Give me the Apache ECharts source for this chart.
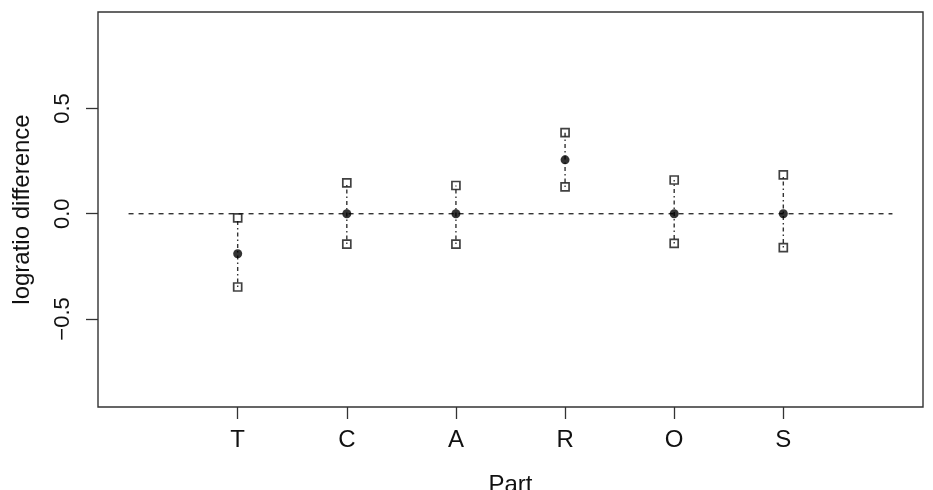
<!DOCTYPE html>
<html>
<head>
<meta charset="utf-8">
<script src="https://cdn.jsdelivr.net/npm/echarts@6/dist/echarts.min.js"></script>
<style>
  html, body { margin: 0; padding: 0; background: #fff; }
  #chart { width: 933px; height: 490px; }
</style>
</head>
<body>
<div id="chart"></div>
<script>
// ---- data ----
var parts = ['T', 'C', 'A', 'R', 'O', 'S'];
var partPos = [1, 2, 3, 4, 5, 6];
var meanVals = [-0.19, 0, 0, 0.256, 0, 0];
var upperVals = [-0.02, 0.146, 0.134, 0.385, 0.16, 0.184];
var lowerVals = [-0.348, -0.144, -0.144, 0.127, -0.141, -0.161];
var refLineX = [0, 7];
var refLineY = 0;
var yTicks = [-0.5, 0, 0.5];

var FONT = 'Liberation Sans, Arial, Helvetica, sans-serif';

function pts(vals) {
    return vals.map(function (v, i) { return [partPos[i], v]; });
}

var myChart = echarts.init(document.getElementById('chart'));
var option = {
    animation: false,
    backgroundColor: '#fff',
    grid: {
        left: 98, right: 10, top: 12, bottom: 83,
        outerBoundsMode: 'none',
        containLabel: false,
        show: true,
        borderColor: '#333',
        borderWidth: 1.4
    },
    xAxis: {
        type: 'value',
        min: -0.28, max: 7.28,
        name: 'Part',
        nameLocation: 'middle',
        nameGap: 66,
        nameTextStyle: { fontFamily: FONT, fontSize: 24, color: '#111' },
        axisLine: { show: false, onZero: false },
        splitLine: { show: false },
        axisTick: {
            show: true, length: 12, customValues: partPos,
            lineStyle: { color: '#333', width: 1.3 }
        },
        axisLabel: {
            customValues: partPos,
            margin: 21,
            fontFamily: FONT, fontSize: 24, color: '#111',
            formatter: function (v) { return parts[partPos.indexOf(v)] || ''; }
        }
    },
    yAxis: {
        type: 'value',
        min: -0.918, max: 0.958,
        name: 'logratio difference',
        nameLocation: 'middle',
        nameRotate: 90,
        nameGap: 64,
        nameTextStyle: { fontFamily: FONT, fontSize: 24, color: '#111' },
        axisLine: { show: false, onZero: false },
        splitLine: { show: false },
        axisTick: {
            show: true, length: 12, customValues: yTicks,
            lineStyle: { color: '#333', width: 1.3 }
        },
        axisLabel: {
            customValues: yTicks,
            rotate: 90,
            margin: 24,
            fontFamily: FONT, fontSize: 22, color: '#111',
            formatter: function (v) {
                return (v < 0 ? '\u2212' : '') + Math.abs(v).toFixed(1);
            }
        }
    },
    series: [
        {   // zero reference line
            type: 'line',
            data: refLineX.map(function (x) { return [x, refLineY]; }),
            symbol: 'none',
            silent: true,
            lineStyle: { color: '#333', width: 1.4, type: [5, 5] },
            z: 1
        },
        {   // dot-dash segments from lower to upper
            type: 'custom',
            data: partPos.map(function (x, i) { return [x, lowerVals[i], upperVals[i]]; }),
            renderItem: function (params, api) {
                var a = api.coord([api.value(0), api.value(1)]);
                var b = api.coord([api.value(0), api.value(2)]);
                return {
                    type: 'line',
                    shape: { x1: a[0], y1: a[1], x2: b[0], y2: b[1] },
                    style: { stroke: '#333', lineWidth: 1.4, lineDash: [1.5, 3, 4, 3] }
                };
            },
            z: 2
        },
        {
            type: 'scatter',
            data: pts(upperVals),
            symbol: 'rect',
            symbolSize: 8,
            itemStyle: { color: 'rgba(0,0,0,0)', borderColor: '#111', borderWidth: 1.7 },
            z: 3
        },
        {
            type: 'scatter',
            data: pts(lowerVals),
            symbol: 'rect',
            symbolSize: 8,
            itemStyle: { color: 'rgba(0,0,0,0)', borderColor: '#111', borderWidth: 1.7 },
            z: 3
        },
        {
            type: 'scatter',
            data: pts(meanVals),
            symbol: 'circle',
            symbolSize: 9,
            itemStyle: { color: '#000' },
            z: 4
        }
    ]
};
myChart.setOption(option);
</script>
</body>
</html>
